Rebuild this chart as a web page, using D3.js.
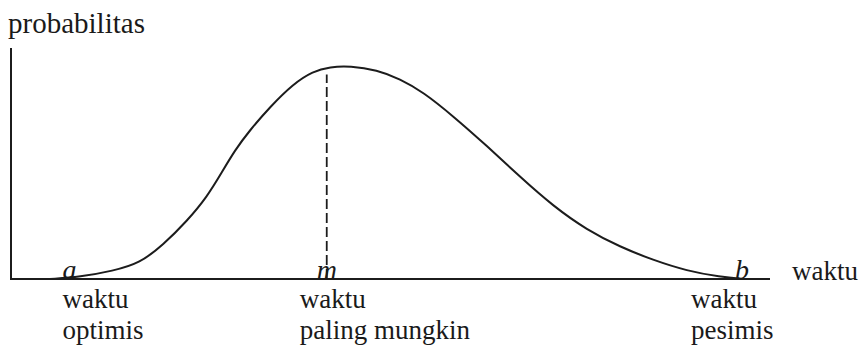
<!DOCTYPE html>
<html>
<head>
<meta charset="utf-8">
<script src="https://cdn.jsdelivr.net/npm/d3@7"></script>
<style>
  html, body { margin: 0; padding: 0; background: #fff; }
  svg { display: block; }
</style>
</head>
<body>
<svg id="chart" width="863" height="349"></svg>
<script>
// Beta-like distribution of activity duration (PERT)
const waktu = [5.14, 9.09, 13.44, 17.0, 20.03, 23.19, 25.82, 27.8, 29.51, 31.49, 34.12, 37.15, 39.79, 42.03,
               44.66, 48.22, 51.25, 54.28, 58.23, 62.71, 67.06, 71.41, 75.89, 80.24, 84.58, 89.06, 93.41, 96.71];
const probabilitas = [0, 0.009, 0.035, 0.069, 0.147, 0.251, 0.355, 0.463, 0.558, 0.645, 0.745, 0.844,
                      0.900, 0.918, 0.922, 0.905, 0.866, 0.810, 0.706, 0.576, 0.442, 0.316, 0.212,
                      0.139, 0.082, 0.035, 0.009, 0];

// Marked times: optimistic (a), most likely (m), pessimistic (b)
const titikNama = ["a", "m", "b"];
const titikWaktu = [7.7, 41.6, 96.3];
const titikKeterangan = [["waktu", "optimis"], ["waktu", "paling mungkin"], ["waktu", "pesimis"]];
const puncakGaris = 0.885;   // height of the dashed line at m

const fontSerif = "'Liberation Serif', Tinos, 'Times New Roman', Times, 'DejaVu Serif', serif";

const svg = d3.select("#chart");
const x = d3.scaleLinear().domain([0, 100]).range([11, 770]);
const y = d3.scaleLinear().domain([0, 1]).range([279, 48]);

const ink = "#1c1c1c";

// axes
svg.append("line")
  .attr("x1", x(0)).attr("x2", x(0)).attr("y1", y(0) + 1).attr("y2", y(1))
  .attr("stroke", ink).attr("stroke-width", 2);
svg.append("line")
  .attr("x1", x(0)).attr("x2", x(100)).attr("y1", y(0)).attr("y2", y(0))
  .attr("stroke", ink).attr("stroke-width", 2);

const teks = sel => sel.attr("font-family", fontSerif).attr("fill", "#1a1a1a");

// axis titles
svg.append("text").call(teks).attr("x", 8).attr("y", 33)
  .attr("font-size", 29).text("probabilitas");
svg.append("text").call(teks).attr("x", x(100) + 22).attr("y", y(0) + 1)
  .attr("font-size", 27).text("waktu");

// dashed line at the mode
svg.append("line")
  .attr("x1", x(titikWaktu[1])).attr("x2", x(titikWaktu[1]))
  .attr("y1", y(0)).attr("y2", y(puncakGaris))
  .attr("stroke", ink).attr("stroke-width", 1.8)
  .attr("stroke-dasharray", "10,4");

// distribution curve
const line = d3.line()
  .x((d, i) => x(waktu[i]))
  .y((d, i) => y(probabilitas[i]))
  .curve(d3.curveBasis);
svg.append("path")
  .datum(waktu)
  .attr("d", line)
  .attr("fill", "none")
  .attr("stroke", ink)
  .attr("stroke-width", 2);

// point letters on the axis
svg.selectAll("text.titik")
  .data(titikNama)
  .join("text")
  .call(teks)
  .attr("class", "titik")
  .attr("x", (d, i) => x(titikWaktu[i]))
  .attr("y", y(0))
  .attr("text-anchor", "middle")
  .attr("font-size", 28)
  .attr("font-style", "italic")
  .text(d => d);

// descriptions under the axis
const geser = [-7, -27, -51];
titikKeterangan.forEach((baris, i) => {
  const t = svg.append("text").call(teks)
    .attr("x", x(titikWaktu[i]) + geser[i])
    .attr("y", 308)
    .attr("font-size", 27);
  baris.forEach((s, j) => {
    t.append("tspan")
      .attr("x", x(titikWaktu[i]) + geser[i])
      .attr("dy", j === 0 ? 0 : 31)
      .text(s);
  });
});
</script>
</body>
</html>
